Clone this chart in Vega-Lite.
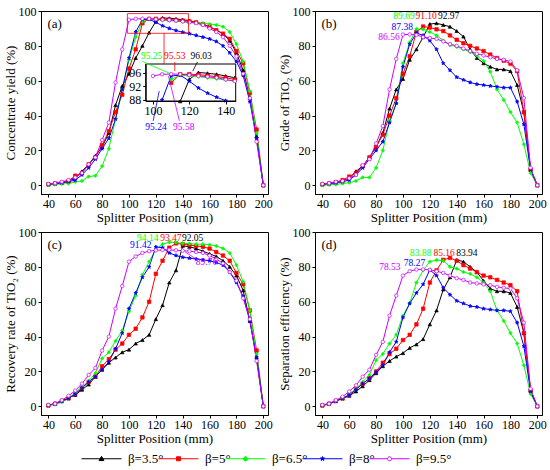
{
"$schema":"https://vega.github.io/schema/vega-lite/v6.json",
"padding":{"left":3,"top":4,"right":3,"bottom":3},
"background":"white",
"datasets":{
"a":[
{"s":"β=3.5°","x":40,"y":0.5},{"s":"β=3.5°","x":45,"y":1},{"s":"β=3.5°","x":50,"y":1.5},{"s":"β=3.5°","x":55,"y":2.5},{"s":"β=3.5°","x":60,"y":4},{"s":"β=3.5°","x":65,"y":8},{"s":"β=3.5°","x":70,"y":12},{"s":"β=3.5°","x":75,"y":17},{"s":"β=3.5°","x":80,"y":22},{"s":"β=3.5°","x":85,"y":30},{"s":"β=3.5°","x":90,"y":46},{"s":"β=3.5°","x":95,"y":57},{"s":"β=3.5°","x":100,"y":64},{"s":"β=3.5°","x":105,"y":73},{"s":"β=3.5°","x":110,"y":80},{"s":"β=3.5°","x":115,"y":87.6},{"s":"β=3.5°","x":120,"y":94},{"s":"β=3.5°","x":125,"y":96.03},{"s":"β=3.5°","x":130,"y":95.8},{"s":"β=3.5°","x":135,"y":95.5},{"s":"β=3.5°","x":140,"y":95},{"s":"β=3.5°","x":145,"y":94.5},{"s":"β=3.5°","x":150,"y":93.5},{"s":"β=3.5°","x":155,"y":92.5},{"s":"β=3.5°","x":160,"y":91},{"s":"β=3.5°","x":165,"y":89},{"s":"β=3.5°","x":170,"y":87},{"s":"β=3.5°","x":175,"y":83},{"s":"β=3.5°","x":180,"y":76},{"s":"β=3.5°","x":185,"y":66},{"s":"β=3.5°","x":190,"y":50},{"s":"β=3.5°","x":195,"y":28},{"s":"β=3.5°","x":200,"y":0},
{"s":"β=5°","x":40,"y":0.5},{"s":"β=5°","x":45,"y":1},{"s":"β=5°","x":50,"y":1.5},{"s":"β=5°","x":55,"y":2.5},{"s":"β=5°","x":60,"y":5.5},{"s":"β=5°","x":65,"y":7},{"s":"β=5°","x":70,"y":12},{"s":"β=5°","x":75,"y":16},{"s":"β=5°","x":80,"y":23},{"s":"β=5°","x":85,"y":31},{"s":"β=5°","x":90,"y":42},{"s":"β=5°","x":95,"y":52},{"s":"β=5°","x":100,"y":67},{"s":"β=5°","x":105,"y":78},{"s":"β=5°","x":110,"y":93},{"s":"β=5°","x":115,"y":95.5},{"s":"β=5°","x":120,"y":95.53},{"s":"β=5°","x":125,"y":95.4},{"s":"β=5°","x":130,"y":95.1},{"s":"β=5°","x":135,"y":94.8},{"s":"β=5°","x":140,"y":94.5},{"s":"β=5°","x":145,"y":94},{"s":"β=5°","x":150,"y":93.5},{"s":"β=5°","x":155,"y":92.5},{"s":"β=5°","x":160,"y":91},{"s":"β=5°","x":165,"y":89},{"s":"β=5°","x":170,"y":87},{"s":"β=5°","x":175,"y":84},{"s":"β=5°","x":180,"y":77},{"s":"β=5°","x":185,"y":70},{"s":"β=5°","x":190,"y":53},{"s":"β=5°","x":195,"y":32},{"s":"β=5°","x":200,"y":0},
{"s":"β=6.5°","x":40,"y":0},{"s":"β=6.5°","x":45,"y":0.5},{"s":"β=6.5°","x":50,"y":0.8},{"s":"β=6.5°","x":55,"y":1},{"s":"β=6.5°","x":60,"y":2},{"s":"β=6.5°","x":65,"y":2.5},{"s":"β=6.5°","x":70,"y":5},{"s":"β=6.5°","x":75,"y":5.5},{"s":"β=6.5°","x":80,"y":11},{"s":"β=6.5°","x":85,"y":21},{"s":"β=6.5°","x":90,"y":38},{"s":"β=6.5°","x":95,"y":55},{"s":"β=6.5°","x":100,"y":72},{"s":"β=6.5°","x":105,"y":85},{"s":"β=6.5°","x":110,"y":94},{"s":"β=6.5°","x":115,"y":95.25},{"s":"β=6.5°","x":120,"y":95},{"s":"β=6.5°","x":125,"y":94.8},{"s":"β=6.5°","x":130,"y":94.5},{"s":"β=6.5°","x":135,"y":94.2},{"s":"β=6.5°","x":140,"y":93.8},{"s":"β=6.5°","x":145,"y":93.5},{"s":"β=6.5°","x":150,"y":93.3},{"s":"β=6.5°","x":155,"y":93},{"s":"β=6.5°","x":160,"y":92.5},{"s":"β=6.5°","x":165,"y":92},{"s":"β=6.5°","x":170,"y":91},{"s":"β=6.5°","x":175,"y":88},{"s":"β=6.5°","x":180,"y":81},{"s":"β=6.5°","x":185,"y":71},{"s":"β=6.5°","x":190,"y":54},{"s":"β=6.5°","x":195,"y":30},{"s":"β=6.5°","x":200,"y":0},
{"s":"β=8°","x":40,"y":0.5},{"s":"β=8°","x":45,"y":1},{"s":"β=8°","x":50,"y":1.5},{"s":"β=8°","x":55,"y":2},{"s":"β=8°","x":60,"y":3},{"s":"β=8°","x":65,"y":6},{"s":"β=8°","x":70,"y":10},{"s":"β=8°","x":75,"y":15},{"s":"β=8°","x":80,"y":21},{"s":"β=8°","x":85,"y":27},{"s":"β=8°","x":90,"y":38},{"s":"β=8°","x":95,"y":55},{"s":"β=8°","x":100,"y":73},{"s":"β=8°","x":105,"y":88},{"s":"β=8°","x":110,"y":95},{"s":"β=8°","x":115,"y":95.24},{"s":"β=8°","x":120,"y":93.5},{"s":"β=8°","x":125,"y":91.5},{"s":"β=8°","x":130,"y":90},{"s":"β=8°","x":135,"y":88.8},{"s":"β=8°","x":140,"y":87.8},{"s":"β=8°","x":145,"y":87},{"s":"β=8°","x":150,"y":86},{"s":"β=8°","x":155,"y":85},{"s":"β=8°","x":160,"y":84},{"s":"β=8°","x":165,"y":82.5},{"s":"β=8°","x":170,"y":80},{"s":"β=8°","x":175,"y":76},{"s":"β=8°","x":180,"y":71},{"s":"β=8°","x":185,"y":63},{"s":"β=8°","x":190,"y":48},{"s":"β=8°","x":195,"y":27},{"s":"β=8°","x":200,"y":0},
{"s":"β=9.5°","x":40,"y":0.8},{"s":"β=9.5°","x":45,"y":1.2},{"s":"β=9.5°","x":50,"y":2},{"s":"β=9.5°","x":55,"y":3},{"s":"β=9.5°","x":60,"y":4.5},{"s":"β=9.5°","x":65,"y":7},{"s":"β=9.5°","x":70,"y":12},{"s":"β=9.5°","x":75,"y":16},{"s":"β=9.5°","x":80,"y":26},{"s":"β=9.5°","x":85,"y":36},{"s":"β=9.5°","x":90,"y":59},{"s":"β=9.5°","x":95,"y":78},{"s":"β=9.5°","x":100,"y":95},{"s":"β=9.5°","x":105,"y":95.5},{"s":"β=9.5°","x":110,"y":95.58},{"s":"β=9.5°","x":115,"y":95.5},{"s":"β=9.5°","x":120,"y":95.3},{"s":"β=9.5°","x":125,"y":95},{"s":"β=9.5°","x":130,"y":94.8},{"s":"β=9.5°","x":135,"y":94.5},{"s":"β=9.5°","x":140,"y":94},{"s":"β=9.5°","x":145,"y":93.5},{"s":"β=9.5°","x":150,"y":93},{"s":"β=9.5°","x":155,"y":92},{"s":"β=9.5°","x":160,"y":90},{"s":"β=9.5°","x":165,"y":88},{"s":"β=9.5°","x":170,"y":85},{"s":"β=9.5°","x":175,"y":80},{"s":"β=9.5°","x":180,"y":74},{"s":"β=9.5°","x":185,"y":64},{"s":"β=9.5°","x":190,"y":50},{"s":"β=9.5°","x":195,"y":25},{"s":"β=9.5°","x":200,"y":0}
],
"b":[
{"s":"β=3.5°","x":40,"y":0.5},{"s":"β=3.5°","x":45,"y":1},{"s":"β=3.5°","x":50,"y":1.5},{"s":"β=3.5°","x":55,"y":2.5},{"s":"β=3.5°","x":60,"y":4},{"s":"β=3.5°","x":65,"y":8},{"s":"β=3.5°","x":70,"y":11},{"s":"β=3.5°","x":75,"y":16},{"s":"β=3.5°","x":80,"y":22},{"s":"β=3.5°","x":85,"y":30},{"s":"β=3.5°","x":90,"y":44},{"s":"β=3.5°","x":95,"y":55},{"s":"β=3.5°","x":100,"y":61},{"s":"β=3.5°","x":105,"y":72},{"s":"β=3.5°","x":110,"y":78},{"s":"β=3.5°","x":115,"y":85},{"s":"β=3.5°","x":120,"y":92.5},{"s":"β=3.5°","x":125,"y":92.97},{"s":"β=3.5°","x":130,"y":92},{"s":"β=3.5°","x":135,"y":91},{"s":"β=3.5°","x":140,"y":88.5},{"s":"β=3.5°","x":145,"y":85.3},{"s":"β=3.5°","x":150,"y":78},{"s":"β=3.5°","x":155,"y":73},{"s":"β=3.5°","x":160,"y":70},{"s":"β=3.5°","x":165,"y":68},{"s":"β=3.5°","x":170,"y":66.5},{"s":"β=3.5°","x":175,"y":66.5},{"s":"β=3.5°","x":180,"y":65.5},{"s":"β=3.5°","x":185,"y":57.5},{"s":"β=3.5°","x":190,"y":42},{"s":"β=3.5°","x":195,"y":9},{"s":"β=3.5°","x":200,"y":0},
{"s":"β=5°","x":40,"y":0.5},{"s":"β=5°","x":45,"y":1},{"s":"β=5°","x":50,"y":1.8},{"s":"β=5°","x":55,"y":3},{"s":"β=5°","x":60,"y":5},{"s":"β=5°","x":65,"y":7},{"s":"β=5°","x":70,"y":11},{"s":"β=5°","x":75,"y":16},{"s":"β=5°","x":80,"y":22},{"s":"β=5°","x":85,"y":29},{"s":"β=5°","x":90,"y":40},{"s":"β=5°","x":95,"y":50},{"s":"β=5°","x":100,"y":64},{"s":"β=5°","x":105,"y":74},{"s":"β=5°","x":110,"y":88},{"s":"β=5°","x":115,"y":91.1},{"s":"β=5°","x":120,"y":90.5},{"s":"β=5°","x":125,"y":89.5},{"s":"β=5°","x":130,"y":88.5},{"s":"β=5°","x":135,"y":86},{"s":"β=5°","x":140,"y":83.5},{"s":"β=5°","x":145,"y":81.5},{"s":"β=5°","x":150,"y":80},{"s":"β=5°","x":155,"y":78.5},{"s":"β=5°","x":160,"y":77},{"s":"β=5°","x":165,"y":75},{"s":"β=5°","x":170,"y":73},{"s":"β=5°","x":175,"y":71.5},{"s":"β=5°","x":180,"y":69.8},{"s":"β=5°","x":185,"y":65.5},{"s":"β=5°","x":190,"y":42},{"s":"β=5°","x":195,"y":9},{"s":"β=5°","x":200,"y":0},
{"s":"β=6.5°","x":40,"y":0},{"s":"β=6.5°","x":45,"y":0.3},{"s":"β=6.5°","x":50,"y":0.5},{"s":"β=6.5°","x":55,"y":1},{"s":"β=6.5°","x":60,"y":1.5},{"s":"β=6.5°","x":65,"y":2.5},{"s":"β=6.5°","x":70,"y":4.5},{"s":"β=6.5°","x":75,"y":4.5},{"s":"β=6.5°","x":80,"y":10},{"s":"β=6.5°","x":85,"y":20},{"s":"β=6.5°","x":90,"y":37},{"s":"β=6.5°","x":95,"y":47},{"s":"β=6.5°","x":100,"y":70},{"s":"β=6.5°","x":105,"y":82},{"s":"β=6.5°","x":110,"y":89.69},{"s":"β=6.5°","x":115,"y":89.5},{"s":"β=6.5°","x":120,"y":88},{"s":"β=6.5°","x":125,"y":86},{"s":"β=6.5°","x":130,"y":83},{"s":"β=6.5°","x":135,"y":80.5},{"s":"β=6.5°","x":140,"y":79.5},{"s":"β=6.5°","x":145,"y":78},{"s":"β=6.5°","x":150,"y":76.5},{"s":"β=6.5°","x":155,"y":74.5},{"s":"β=6.5°","x":160,"y":71.3},{"s":"β=6.5°","x":165,"y":65.2},{"s":"β=6.5°","x":170,"y":55},{"s":"β=6.5°","x":175,"y":49},{"s":"β=6.5°","x":180,"y":42},{"s":"β=6.5°","x":185,"y":36},{"s":"β=6.5°","x":190,"y":23.5},{"s":"β=6.5°","x":195,"y":7},{"s":"β=6.5°","x":200,"y":0},
{"s":"β=8°","x":40,"y":0.5},{"s":"β=8°","x":45,"y":1},{"s":"β=8°","x":50,"y":1.5},{"s":"β=8°","x":55,"y":2},{"s":"β=8°","x":60,"y":3},{"s":"β=8°","x":65,"y":6},{"s":"β=8°","x":70,"y":10},{"s":"β=8°","x":75,"y":15},{"s":"β=8°","x":80,"y":20},{"s":"β=8°","x":85,"y":25},{"s":"β=8°","x":90,"y":36},{"s":"β=8°","x":95,"y":47},{"s":"β=8°","x":100,"y":68},{"s":"β=8°","x":105,"y":81},{"s":"β=8°","x":110,"y":87.38},{"s":"β=8°","x":115,"y":86},{"s":"β=8°","x":120,"y":83},{"s":"β=8°","x":125,"y":78},{"s":"β=8°","x":130,"y":70},{"s":"β=8°","x":135,"y":66},{"s":"β=8°","x":140,"y":62},{"s":"β=8°","x":145,"y":60.5},{"s":"β=8°","x":150,"y":59},{"s":"β=8°","x":155,"y":58},{"s":"β=8°","x":160,"y":57.5},{"s":"β=8°","x":165,"y":57},{"s":"β=8°","x":170,"y":56.5},{"s":"β=8°","x":175,"y":56},{"s":"β=8°","x":180,"y":56},{"s":"β=8°","x":185,"y":48},{"s":"β=8°","x":190,"y":35},{"s":"β=8°","x":195,"y":9},{"s":"β=8°","x":200,"y":0},
{"s":"β=9.5°","x":40,"y":0.8},{"s":"β=9.5°","x":45,"y":1.2},{"s":"β=9.5°","x":50,"y":2},{"s":"β=9.5°","x":55,"y":2.5},{"s":"β=9.5°","x":60,"y":4},{"s":"β=9.5°","x":65,"y":6},{"s":"β=9.5°","x":70,"y":11.5},{"s":"β=9.5°","x":75,"y":15},{"s":"β=9.5°","x":80,"y":24},{"s":"β=9.5°","x":85,"y":34},{"s":"β=9.5°","x":90,"y":55},{"s":"β=9.5°","x":95,"y":72.5},{"s":"β=9.5°","x":100,"y":86.5},{"s":"β=9.5°","x":105,"y":86.56},{"s":"β=9.5°","x":110,"y":86.3},{"s":"β=9.5°","x":115,"y":85},{"s":"β=9.5°","x":120,"y":84.5},{"s":"β=9.5°","x":125,"y":84},{"s":"β=9.5°","x":130,"y":82.5},{"s":"β=9.5°","x":135,"y":81},{"s":"β=9.5°","x":140,"y":80},{"s":"β=9.5°","x":145,"y":78.5},{"s":"β=9.5°","x":150,"y":77},{"s":"β=9.5°","x":155,"y":75.5},{"s":"β=9.5°","x":160,"y":74.5},{"s":"β=9.5°","x":165,"y":73.5},{"s":"β=9.5°","x":170,"y":72.5},{"s":"β=9.5°","x":175,"y":72},{"s":"β=9.5°","x":180,"y":71},{"s":"β=9.5°","x":185,"y":66},{"s":"β=9.5°","x":190,"y":50},{"s":"β=9.5°","x":195,"y":10},{"s":"β=9.5°","x":200,"y":0}
],
"c":[
{"s":"β=3.5°","x":40,"y":0.5},{"s":"β=3.5°","x":45,"y":1.5},{"s":"β=3.5°","x":50,"y":3},{"s":"β=3.5°","x":55,"y":5},{"s":"β=3.5°","x":60,"y":6.5},{"s":"β=3.5°","x":65,"y":9.5},{"s":"β=3.5°","x":70,"y":12.5},{"s":"β=3.5°","x":75,"y":17},{"s":"β=3.5°","x":80,"y":21},{"s":"β=3.5°","x":85,"y":25},{"s":"β=3.5°","x":90,"y":28},{"s":"β=3.5°","x":95,"y":31},{"s":"β=3.5°","x":100,"y":32.5},{"s":"β=3.5°","x":105,"y":36},{"s":"β=3.5°","x":110,"y":38},{"s":"β=3.5°","x":115,"y":41},{"s":"β=3.5°","x":120,"y":50},{"s":"β=3.5°","x":125,"y":58},{"s":"β=3.5°","x":130,"y":71},{"s":"β=3.5°","x":135,"y":78},{"s":"β=3.5°","x":140,"y":92.05},{"s":"β=3.5°","x":145,"y":91.5},{"s":"β=3.5°","x":150,"y":90.5},{"s":"β=3.5°","x":155,"y":89},{"s":"β=3.5°","x":160,"y":87.5},{"s":"β=3.5°","x":165,"y":86},{"s":"β=3.5°","x":170,"y":83.5},{"s":"β=3.5°","x":175,"y":80},{"s":"β=3.5°","x":180,"y":75},{"s":"β=3.5°","x":185,"y":66.5},{"s":"β=3.5°","x":190,"y":49},{"s":"β=3.5°","x":195,"y":28},{"s":"β=3.5°","x":200,"y":0},
{"s":"β=5°","x":40,"y":0.5},{"s":"β=5°","x":45,"y":1.5},{"s":"β=5°","x":50,"y":3},{"s":"β=5°","x":55,"y":4.5},{"s":"β=5°","x":60,"y":7},{"s":"β=5°","x":65,"y":10.5},{"s":"β=5°","x":70,"y":14},{"s":"β=5°","x":75,"y":17},{"s":"β=5°","x":80,"y":23},{"s":"β=5°","x":85,"y":27},{"s":"β=5°","x":90,"y":32.5},{"s":"β=5°","x":95,"y":36},{"s":"β=5°","x":100,"y":41},{"s":"β=5°","x":105,"y":44.5},{"s":"β=5°","x":110,"y":51},{"s":"β=5°","x":115,"y":60},{"s":"β=5°","x":120,"y":76},{"s":"β=5°","x":125,"y":83.5},{"s":"β=5°","x":130,"y":91},{"s":"β=5°","x":135,"y":93.47},{"s":"β=5°","x":140,"y":93},{"s":"β=5°","x":145,"y":92.5},{"s":"β=5°","x":150,"y":92},{"s":"β=5°","x":155,"y":91.5},{"s":"β=5°","x":160,"y":90.5},{"s":"β=5°","x":165,"y":88.5},{"s":"β=5°","x":170,"y":86.5},{"s":"β=5°","x":175,"y":83.5},{"s":"β=5°","x":180,"y":76.5},{"s":"β=5°","x":185,"y":70},{"s":"β=5°","x":190,"y":55},{"s":"β=5°","x":195,"y":32},{"s":"β=5°","x":200,"y":0},
{"s":"β=6.5°","x":40,"y":0.5},{"s":"β=6.5°","x":45,"y":1},{"s":"β=6.5°","x":50,"y":2.5},{"s":"β=6.5°","x":55,"y":4.5},{"s":"β=6.5°","x":60,"y":8},{"s":"β=6.5°","x":65,"y":11},{"s":"β=6.5°","x":70,"y":14.5},{"s":"β=6.5°","x":75,"y":19},{"s":"β=6.5°","x":80,"y":27.5},{"s":"β=6.5°","x":85,"y":31},{"s":"β=6.5°","x":90,"y":37.5},{"s":"β=6.5°","x":95,"y":43.5},{"s":"β=6.5°","x":100,"y":54.5},{"s":"β=6.5°","x":105,"y":63.5},{"s":"β=6.5°","x":110,"y":75.5},{"s":"β=6.5°","x":115,"y":83},{"s":"β=6.5°","x":120,"y":90},{"s":"β=6.5°","x":125,"y":93},{"s":"β=6.5°","x":130,"y":94.14},{"s":"β=6.5°","x":135,"y":94},{"s":"β=6.5°","x":140,"y":93.5},{"s":"β=6.5°","x":145,"y":93.3},{"s":"β=6.5°","x":150,"y":93},{"s":"β=6.5°","x":155,"y":93},{"s":"β=6.5°","x":160,"y":92.7},{"s":"β=6.5°","x":165,"y":92},{"s":"β=6.5°","x":170,"y":90.5},{"s":"β=6.5°","x":175,"y":88},{"s":"β=6.5°","x":180,"y":81},{"s":"β=6.5°","x":185,"y":71.5},{"s":"β=6.5°","x":190,"y":55},{"s":"β=6.5°","x":195,"y":30},{"s":"β=6.5°","x":200,"y":0},
{"s":"β=8°","x":40,"y":0.5},{"s":"β=8°","x":45,"y":1.5},{"s":"β=8°","x":50,"y":3},{"s":"β=8°","x":55,"y":4.5},{"s":"β=8°","x":60,"y":7},{"s":"β=8°","x":65,"y":10.5},{"s":"β=8°","x":70,"y":14},{"s":"β=8°","x":75,"y":17},{"s":"β=8°","x":80,"y":21},{"s":"β=8°","x":85,"y":25.5},{"s":"β=8°","x":90,"y":33},{"s":"β=8°","x":95,"y":42},{"s":"β=8°","x":100,"y":56},{"s":"β=8°","x":105,"y":65},{"s":"β=8°","x":110,"y":74},{"s":"β=8°","x":115,"y":80},{"s":"β=8°","x":120,"y":91.42},{"s":"β=8°","x":125,"y":91},{"s":"β=8°","x":130,"y":88},{"s":"β=8°","x":135,"y":86.5},{"s":"β=8°","x":140,"y":85.5},{"s":"β=8°","x":145,"y":85},{"s":"β=8°","x":150,"y":84.5},{"s":"β=8°","x":155,"y":84},{"s":"β=8°","x":160,"y":83.5},{"s":"β=8°","x":165,"y":82.5},{"s":"β=8°","x":170,"y":81},{"s":"β=8°","x":175,"y":77},{"s":"β=8°","x":180,"y":71},{"s":"β=8°","x":185,"y":63},{"s":"β=8°","x":190,"y":49},{"s":"β=8°","x":195,"y":28},{"s":"β=8°","x":200,"y":0},
{"s":"β=9.5°","x":40,"y":0.8},{"s":"β=9.5°","x":45,"y":1.5},{"s":"β=9.5°","x":50,"y":3.5},{"s":"β=9.5°","x":55,"y":6},{"s":"β=9.5°","x":60,"y":9},{"s":"β=9.5°","x":65,"y":13},{"s":"β=9.5°","x":70,"y":18},{"s":"β=9.5°","x":75,"y":22},{"s":"β=9.5°","x":80,"y":32},{"s":"β=9.5°","x":85,"y":40},{"s":"β=9.5°","x":90,"y":56},{"s":"β=9.5°","x":95,"y":69},{"s":"β=9.5°","x":100,"y":83},{"s":"β=9.5°","x":105,"y":86},{"s":"β=9.5°","x":110,"y":88},{"s":"β=9.5°","x":115,"y":89},{"s":"β=9.5°","x":120,"y":89.5},{"s":"β=9.5°","x":125,"y":89.7},{"s":"β=9.5°","x":130,"y":89.76},{"s":"β=9.5°","x":135,"y":89.5},{"s":"β=9.5°","x":140,"y":89.3},{"s":"β=9.5°","x":145,"y":89},{"s":"β=9.5°","x":150,"y":88.5},{"s":"β=9.5°","x":155,"y":88},{"s":"β=9.5°","x":160,"y":86.5},{"s":"β=9.5°","x":165,"y":84.5},{"s":"β=9.5°","x":170,"y":82},{"s":"β=9.5°","x":175,"y":77},{"s":"β=9.5°","x":180,"y":72},{"s":"β=9.5°","x":185,"y":62},{"s":"β=9.5°","x":190,"y":50},{"s":"β=9.5°","x":195,"y":26},{"s":"β=9.5°","x":200,"y":0}
],
"d":[
{"s":"β=3.5°","x":40,"y":0.5},{"s":"β=3.5°","x":45,"y":1.5},{"s":"β=3.5°","x":50,"y":3},{"s":"β=3.5°","x":55,"y":4.5},{"s":"β=3.5°","x":60,"y":6},{"s":"β=3.5°","x":65,"y":8.5},{"s":"β=3.5°","x":70,"y":11.5},{"s":"β=3.5°","x":75,"y":15},{"s":"β=3.5°","x":80,"y":19},{"s":"β=3.5°","x":85,"y":23},{"s":"β=3.5°","x":90,"y":26},{"s":"β=3.5°","x":95,"y":28.5},{"s":"β=3.5°","x":100,"y":30.5},{"s":"β=3.5°","x":105,"y":33.5},{"s":"β=3.5°","x":110,"y":35.5},{"s":"β=3.5°","x":115,"y":38.5},{"s":"β=3.5°","x":120,"y":47},{"s":"β=3.5°","x":125,"y":55},{"s":"β=3.5°","x":130,"y":67},{"s":"β=3.5°","x":135,"y":74},{"s":"β=3.5°","x":140,"y":83.94},{"s":"β=3.5°","x":145,"y":83},{"s":"β=3.5°","x":150,"y":80},{"s":"β=3.5°","x":155,"y":77},{"s":"β=3.5°","x":160,"y":72},{"s":"β=3.5°","x":165,"y":67.5},{"s":"β=3.5°","x":170,"y":66},{"s":"β=3.5°","x":175,"y":66},{"s":"β=3.5°","x":180,"y":65},{"s":"β=3.5°","x":185,"y":57},{"s":"β=3.5°","x":190,"y":42},{"s":"β=3.5°","x":195,"y":9},{"s":"β=3.5°","x":200,"y":0},
{"s":"β=5°","x":40,"y":0.5},{"s":"β=5°","x":45,"y":1.5},{"s":"β=5°","x":50,"y":3},{"s":"β=5°","x":55,"y":4.5},{"s":"β=5°","x":60,"y":6.5},{"s":"β=5°","x":65,"y":10},{"s":"β=5°","x":70,"y":13},{"s":"β=5°","x":75,"y":16},{"s":"β=5°","x":80,"y":20},{"s":"β=5°","x":85,"y":25},{"s":"β=5°","x":90,"y":30},{"s":"β=5°","x":95,"y":33},{"s":"β=5°","x":100,"y":38},{"s":"β=5°","x":105,"y":41},{"s":"β=5°","x":110,"y":47},{"s":"β=5°","x":115,"y":56},{"s":"β=5°","x":120,"y":71},{"s":"β=5°","x":125,"y":78},{"s":"β=5°","x":130,"y":84},{"s":"β=5°","x":135,"y":85.16},{"s":"β=5°","x":140,"y":83.5},{"s":"β=5°","x":145,"y":81},{"s":"β=5°","x":150,"y":79},{"s":"β=5°","x":155,"y":77},{"s":"β=5°","x":160,"y":75},{"s":"β=5°","x":165,"y":74},{"s":"β=5°","x":170,"y":72.5},{"s":"β=5°","x":175,"y":71},{"s":"β=5°","x":180,"y":69.5},{"s":"β=5°","x":185,"y":66},{"s":"β=5°","x":190,"y":42},{"s":"β=5°","x":195,"y":9},{"s":"β=5°","x":200,"y":0},
{"s":"β=6.5°","x":40,"y":0.5},{"s":"β=6.5°","x":45,"y":1},{"s":"β=6.5°","x":50,"y":3},{"s":"β=6.5°","x":55,"y":4.5},{"s":"β=6.5°","x":60,"y":7},{"s":"β=6.5°","x":65,"y":10},{"s":"β=6.5°","x":70,"y":14},{"s":"β=6.5°","x":75,"y":18},{"s":"β=6.5°","x":80,"y":26.5},{"s":"β=6.5°","x":85,"y":30},{"s":"β=6.5°","x":90,"y":36},{"s":"β=6.5°","x":95,"y":41},{"s":"β=6.5°","x":100,"y":52},{"s":"β=6.5°","x":105,"y":59},{"s":"β=6.5°","x":110,"y":71},{"s":"β=6.5°","x":115,"y":78},{"s":"β=6.5°","x":120,"y":83},{"s":"β=6.5°","x":125,"y":83.88},{"s":"β=6.5°","x":130,"y":83.5},{"s":"β=6.5°","x":135,"y":80},{"s":"β=6.5°","x":140,"y":79},{"s":"β=6.5°","x":145,"y":77},{"s":"β=6.5°","x":150,"y":76},{"s":"β=6.5°","x":155,"y":74},{"s":"β=6.5°","x":160,"y":71},{"s":"β=6.5°","x":165,"y":66},{"s":"β=6.5°","x":170,"y":55},{"s":"β=6.5°","x":175,"y":49},{"s":"β=6.5°","x":180,"y":42},{"s":"β=6.5°","x":185,"y":36},{"s":"β=6.5°","x":190,"y":23.5},{"s":"β=6.5°","x":195,"y":7},{"s":"β=6.5°","x":200,"y":0},
{"s":"β=8°","x":40,"y":0.5},{"s":"β=8°","x":45,"y":1.5},{"s":"β=8°","x":50,"y":3},{"s":"β=8°","x":55,"y":4.5},{"s":"β=8°","x":60,"y":6.5},{"s":"β=8°","x":65,"y":9.5},{"s":"β=8°","x":70,"y":13},{"s":"β=8°","x":75,"y":16},{"s":"β=8°","x":80,"y":19.5},{"s":"β=8°","x":85,"y":23.5},{"s":"β=8°","x":90,"y":31},{"s":"β=8°","x":95,"y":37},{"s":"β=8°","x":100,"y":51},{"s":"β=8°","x":105,"y":59},{"s":"β=8°","x":110,"y":65},{"s":"β=8°","x":115,"y":70},{"s":"β=8°","x":120,"y":78.27},{"s":"β=8°","x":125,"y":75},{"s":"β=8°","x":130,"y":68},{"s":"β=8°","x":135,"y":64},{"s":"β=8°","x":140,"y":60.5},{"s":"β=8°","x":145,"y":59},{"s":"β=8°","x":150,"y":57.5},{"s":"β=8°","x":155,"y":57},{"s":"β=8°","x":160,"y":56},{"s":"β=8°","x":165,"y":55.5},{"s":"β=8°","x":170,"y":55},{"s":"β=8°","x":175,"y":55},{"s":"β=8°","x":180,"y":54.5},{"s":"β=8°","x":185,"y":48},{"s":"β=8°","x":190,"y":34.5},{"s":"β=8°","x":195,"y":8.5},{"s":"β=8°","x":200,"y":0},
{"s":"β=9.5°","x":40,"y":0.8},{"s":"β=9.5°","x":45,"y":1.5},{"s":"β=9.5°","x":50,"y":3.5},{"s":"β=9.5°","x":55,"y":5.5},{"s":"β=9.5°","x":60,"y":8.5},{"s":"β=9.5°","x":65,"y":12},{"s":"β=9.5°","x":70,"y":17},{"s":"β=9.5°","x":75,"y":21},{"s":"β=9.5°","x":80,"y":29.5},{"s":"β=9.5°","x":85,"y":37},{"s":"β=9.5°","x":90,"y":52},{"s":"β=9.5°","x":95,"y":63.5},{"s":"β=9.5°","x":100,"y":75},{"s":"β=9.5°","x":105,"y":77.5},{"s":"β=9.5°","x":110,"y":78.5},{"s":"β=9.5°","x":115,"y":78.53},{"s":"β=9.5°","x":120,"y":78.3},{"s":"β=9.5°","x":125,"y":77.5},{"s":"β=9.5°","x":130,"y":76.5},{"s":"β=9.5°","x":135,"y":75},{"s":"β=9.5°","x":140,"y":73.5},{"s":"β=9.5°","x":145,"y":72.5},{"s":"β=9.5°","x":150,"y":71},{"s":"β=9.5°","x":155,"y":70.5},{"s":"β=9.5°","x":160,"y":70},{"s":"β=9.5°","x":165,"y":69.5},{"s":"β=9.5°","x":170,"y":68.5},{"s":"β=9.5°","x":175,"y":68},{"s":"β=9.5°","x":180,"y":67.5},{"s":"β=9.5°","x":185,"y":62},{"s":"β=9.5°","x":190,"y":48},{"s":"β=9.5°","x":195,"y":10},{"s":"β=9.5°","x":200,"y":0}
],
"notes":[
{"p":"a","s":"β=6.5°","x":116.9,"y":73.9,"t":"95.25"},{"p":"a","s":"β=5°","x":134.1,"y":73.9,"t":"95.53"},{"p":"a","s":"β=3.5°","x":153.7,"y":73.9,"t":"96.03"},{"p":"a","s":"β=8°","x":120.1,"y":33.3,"t":"95.24"},{"p":"a","s":"β=9.5°","x":140.8,"y":33.3,"t":"95.58"},
{"p":"b","s":"β=6.5°","x":100.8,"y":97.1,"t":"89.69"},{"p":"b","s":"β=5°","x":117.2,"y":97.1,"t":"91.10"},{"p":"b","s":"β=3.5°","x":134,"y":97.1,"t":"92.97"},{"p":"b","s":"β=8°","x":99.5,"y":90.8,"t":"87.38"},{"p":"b","s":"β=9.5°","x":89.6,"y":85,"t":"86.56"},
{"p":"c","s":"β=6.5°","x":114,"y":96.5,"t":"94.14"},{"p":"c","s":"β=5°","x":131.2,"y":96.5,"t":"93.47"},{"p":"c","s":"β=3.5°","x":147.4,"y":96.5,"t":"92.05"},{"p":"c","s":"β=8°","x":108.8,"y":92.7,"t":"91.42"},{"p":"c","s":"β=9.5°","x":157.7,"y":82.8,"t":"89.76"},
{"p":"d","s":"β=6.5°","x":113.2,"y":87.9,"t":"83.88"},{"p":"d","s":"β=5°","x":130.6,"y":87.9,"t":"85.16"},{"p":"d","s":"β=3.5°","x":147.6,"y":87.9,"t":"83.94"},{"p":"d","s":"β=8°","x":108.6,"y":82.5,"t":"78.27"},{"p":"d","s":"β=9.5°","x":90.2,"y":80.2,"t":"78.53"}
],
"arrows":[
{"p":"a","s":"β=6.5°","x":110,"y":71,"x2":131,"y2":64},
{"p":"a","s":"β=5°","x":134.1,"y":70.8,"x2":134.1,"y2":65.5},
{"p":"a","s":"β=3.5°","x":151,"y":70.8,"x2":147.5,"y2":65.5},
{"p":"a","s":"β=8°","x":118,"y":37,"x2":122.5,"y2":54},
{"p":"a","s":"β=9.5°","x":137.5,"y":37,"x2":129.4,"y2":62.7},
{"p":"c","s":"β=9.5°","x":150.4,"y":84.3,"x2":141.7,"y2":88.6}
]
},
"vconcat":[
{"hconcat":[
{
"width":227,"height":183,
"resolve":{"scale":{"x":"independent","y":"independent"}},
"layer":[
{
"data":{"name":"a"},
"encoding":{
"x":{"field":"x","type":"quantitative","scale":{"domain":[34.5,203.5],"nice":false,"zero":false},"axis":{"values":[40,60,80,100,120,140,160,180,200],"title":"Splitter Position (mm)"}},
"y":{"field":"y","type":"quantitative","scale":{"domain":[-5,100],"nice":false,"zero":false},"axis":{"values":[0,20,40,60,80,100],"title":"Concentrate yield (%)"}}
},
"layer":[
{"mark":{"type":"line","strokeWidth":1},"encoding":{"stroke":{"field":"s","type":"nominal","scale":{"domain":["β=3.5°","β=5°","β=6.5°","β=8°","β=9.5°"],"range":["#000000","#FF0000","#00FF00","#0000FF","#CC00FF"]},
"legend":{"orient":"none","legendX":54,"legendY":441,"direction":"horizontal","title":null,"symbolSize":16,"symbolStrokeWidth":1,"labelOffset":20,"columnPadding":-8,"labelFont":"Liberation Serif","labelFontSize":13,"labelColor":"black",
"encode":{"symbols":{"update":{
"shape":{"signal":"['M-10,0H10M0,-1.2L1.2,0.9H-1.2Z','M-10,0H10M-1,-1H1V1H-1Z','M-10,0H10M0,-1.3L1.3,0L0,1.3L-1.3,0Z','M-10,0H10M0,-1.1L0.265,-0.364L1.046,-0.34L0.428,0.139L0.647,0.89L0,0.45L-0.647,0.89L-0.428,0.139L-1.046,-0.34L-0.265,-0.364Z','M-10,0H-1M1,0H10M1,0A1,1,0,1,1,-1,0A1,1,0,1,1,1,0Z'][datum.index]"},
"fill":{"signal":"['#000000','#FF0000','#00FF00','#0000FF','#FFFFFF'][datum.index]"}
}}}}}}},
{"mark":{"type":"point","filled":true,"size":12,"strokeWidth":0.7,"opacity":1},"encoding":{
"stroke":{"field":"s","type":"nominal","scale":{"domain":["β=3.5°","β=5°","β=6.5°","β=8°","β=9.5°"],"range":["#000000","#FF0000","#00FF00","#0000FF","#CC00FF"]},"legend":null},
"fill":{"field":"s","type":"nominal","scale":{"domain":["β=9.5°","β=8°","β=6.5°","β=5°","β=3.5°"],"range":["#FFFFFF","#0000FF","#00FF00","#FF0000","#000000"]},"legend":null},
"shape":{"field":"s","type":"nominal","scale":{"domain":["β=9.5°","β=8°","β=6.5°","β=5°","β=3.5°"],"range":["circle","M0,-1.1L0.265,-0.364L1.046,-0.34L0.428,0.139L0.647,0.89L0,0.45L-0.647,0.89L-0.428,0.139L-1.046,-0.34L-0.265,-0.364Z","diamond","square","triangle-up"]},"legend":null}}}
]
},
{
"data":{"name":"a"},
"encoding":{
"x":{"field":"x","type":"quantitative","scale":{"domain":[96,145.5],"range":[104.7,194.7],"nice":false,"zero":false},"axis":{"orient":"bottom","offset":-93,"values":[100,120,140],"title":null,"zindex":1}},
"y":{"field":"y","type":"quantitative","scale":{"domain":[87.7,98.5],"range":[90,53],"nice":false,"zero":false},"axis":{"orient":"left","offset":-104.7,"values":[88,92,96],"title":null,"zindex":1}}
},
"layer":[
{"data":{"values":[{"x":96,"x2":145.5,"y":87.7,"y2":98.5}]},"mark":{"type":"rect","fill":"white","stroke":"black","strokeWidth":1},"encoding":{"x2":{"field":"x2"},"y2":{"field":"y2"}}},
{"transform":[{"filter":"datum.x >= 96 && datum.x <= 145.5 && datum.y >= 87.4"}],"mark":{"type":"line","strokeWidth":1},"encoding":{"stroke":{"field":"s","type":"nominal","scale":{"domain":["β=3.5°","β=5°","β=6.5°","β=8°","β=9.5°"],"range":["#000000","#FF0000","#00FF00","#0000FF","#CC00FF"]},"legend":null}}},
{"transform":[{"filter":"datum.x >= 96 && datum.x <= 145.5 && datum.y >= 87.4"}],"mark":{"type":"point","filled":true,"size":12,"strokeWidth":0.7,"opacity":1},"encoding":{
"stroke":{"field":"s","type":"nominal","scale":{"domain":["β=3.5°","β=5°","β=6.5°","β=8°","β=9.5°"],"range":["#000000","#FF0000","#00FF00","#0000FF","#CC00FF"]},"legend":null},
"fill":{"field":"s","type":"nominal","scale":{"domain":["β=9.5°","β=8°","β=6.5°","β=5°","β=3.5°"],"range":["#FFFFFF","#0000FF","#00FF00","#FF0000","#000000"]},"legend":null},
"shape":{"field":"s","type":"nominal","scale":{"domain":["β=9.5°","β=8°","β=6.5°","β=5°","β=3.5°"],"range":["circle","M0,-1.1L0.265,-0.364L1.046,-0.34L0.428,0.139L0.647,0.89L0,0.45L-0.647,0.89L-0.428,0.139L-1.046,-0.34L-0.265,-0.364Z","diamond","square","triangle-up"]},"legend":null}}}
]
},
{
"encoding":{
"x":{"field":"x","type":"quantitative","scale":{"domain":[34.5,203.5],"nice":false,"zero":false},"axis":null},
"y":{"field":"y","type":"quantitative","scale":{"domain":[-5,100],"nice":false,"zero":false},"axis":null}
},
"layer":[
{"data":{"values":[{"x":98.8,"x2":144.3,"y":87.2,"y2":98.5}]},"mark":{"type":"rect","filled":false,"stroke":"#FF0000","strokeWidth":0.8},"encoding":{"x2":{"field":"x2"},"y2":{"field":"y2"}}},
{"data":{"values":[{"x":126.1,"y":87.2,"y2":69.6}]},"mark":{"type":"rule","color":"#FF0000","strokeWidth":0.8},"encoding":{"y2":{"field":"y2"}}},
{"data":{"name":"arrows"},"transform":[{"filter":"datum.p === 'a'"}],"mark":{"type":"rule","strokeWidth":0.8},"encoding":{"x2":{"field":"x2"},"y2":{"field":"y2"},"color":{"field":"s","type":"nominal","scale":{"domain":["β=9.5°","β=8°","β=6.5°","β=5°","β=3.5°"],"range":["#CC00FF","#0000FF","#00FF00","#FF0000","#000000"]},"legend":null}}},
{"data":{"name":"notes"},"transform":[{"filter":"datum.p === 'a'"}],"mark":{"type":"text","fontSize":9.5,"font":"Liberation Serif"},"encoding":{"text":{"field":"t"},"color":{"field":"s","type":"nominal","scale":{"domain":["β=9.5°","β=8°","β=6.5°","β=5°","β=3.5°"],"range":["#CC00FF","#0000FF","#00FF00","#FF0000","#000000"]},"legend":null}}},
{"data":{"values":[{"x":39.3,"y":92.5,"t":"(a)"}]},"mark":{"type":"text","align":"left","fontSize":13,"font":"Liberation Serif","color":"black"},"encoding":{"text":{"field":"t"}}}
]
}
]
},
{
"width":227,"height":183,
"data":{"name":"b"},
"encoding":{
"x":{"field":"x","type":"quantitative","scale":{"domain":[34.5,203.5],"nice":false,"zero":false},"axis":{"values":[40,60,80,100,120,140,160,180,200],"title":"Splitter Position (mm)"}},
"y":{"field":"y","type":"quantitative","scale":{"domain":[-5,100],"nice":false,"zero":false},"axis":{"values":[0,20,40,60,80,100],"title":"Grade of TiO₂ (%)"}}
},
"layer":[
{"mark":{"type":"line","strokeWidth":1},"encoding":{"stroke":{"field":"s","type":"nominal","scale":{"domain":["β=3.5°","β=5°","β=6.5°","β=8°","β=9.5°"],"range":["#000000","#FF0000","#00FF00","#0000FF","#CC00FF"]},"legend":null}}},
{"mark":{"type":"point","filled":true,"size":12,"strokeWidth":0.7,"opacity":1},"encoding":{
"stroke":{"field":"s","type":"nominal","scale":{"domain":["β=3.5°","β=5°","β=6.5°","β=8°","β=9.5°"],"range":["#000000","#FF0000","#00FF00","#0000FF","#CC00FF"]},"legend":null},
"fill":{"field":"s","type":"nominal","scale":{"domain":["β=9.5°","β=8°","β=6.5°","β=5°","β=3.5°"],"range":["#FFFFFF","#0000FF","#00FF00","#FF0000","#000000"]},"legend":null},
"shape":{"field":"s","type":"nominal","scale":{"domain":["β=9.5°","β=8°","β=6.5°","β=5°","β=3.5°"],"range":["circle","M0,-1.1L0.265,-0.364L1.046,-0.34L0.428,0.139L0.647,0.89L0,0.45L-0.647,0.89L-0.428,0.139L-1.046,-0.34L-0.265,-0.364Z","diamond","square","triangle-up"]},"legend":null}}},
{"data":{"name":"notes"},"transform":[{"filter":"datum.p === 'b'"}],"mark":{"type":"text","fontSize":9.5,"font":"Liberation Serif"},"encoding":{"text":{"field":"t"},"color":{"field":"s","type":"nominal","scale":{"domain":["β=9.5°","β=8°","β=6.5°","β=5°","β=3.5°"],"range":["#CC00FF","#0000FF","#00FF00","#FF0000","#000000"]},"legend":null}}},
{"data":{"values":[{"x":39.3,"y":92.5,"t":"(b)"}]},"mark":{"type":"text","align":"left","fontSize":13,"font":"Liberation Serif","color":"black"},"encoding":{"text":{"field":"t"}}}
]
}
],"spacing":4},
{"hconcat":[
{
"width":227,"height":183,
"data":{"name":"c"},
"encoding":{
"x":{"field":"x","type":"quantitative","scale":{"domain":[34.5,203.5],"nice":false,"zero":false},"axis":{"values":[40,60,80,100,120,140,160,180,200],"title":"Splitter Position (mm)"}},
"y":{"field":"y","type":"quantitative","scale":{"domain":[-5,100],"nice":false,"zero":false},"axis":{"values":[0,20,40,60,80,100],"title":"Recovery rate of TiO₂ (%)"}}
},
"layer":[
{"mark":{"type":"line","strokeWidth":1},"encoding":{"stroke":{"field":"s","type":"nominal","scale":{"domain":["β=3.5°","β=5°","β=6.5°","β=8°","β=9.5°"],"range":["#000000","#FF0000","#00FF00","#0000FF","#CC00FF"]},"legend":null}}},
{"mark":{"type":"point","filled":true,"size":12,"strokeWidth":0.7,"opacity":1},"encoding":{
"stroke":{"field":"s","type":"nominal","scale":{"domain":["β=3.5°","β=5°","β=6.5°","β=8°","β=9.5°"],"range":["#000000","#FF0000","#00FF00","#0000FF","#CC00FF"]},"legend":null},
"fill":{"field":"s","type":"nominal","scale":{"domain":["β=9.5°","β=8°","β=6.5°","β=5°","β=3.5°"],"range":["#FFFFFF","#0000FF","#00FF00","#FF0000","#000000"]},"legend":null},
"shape":{"field":"s","type":"nominal","scale":{"domain":["β=9.5°","β=8°","β=6.5°","β=5°","β=3.5°"],"range":["circle","M0,-1.1L0.265,-0.364L1.046,-0.34L0.428,0.139L0.647,0.89L0,0.45L-0.647,0.89L-0.428,0.139L-1.046,-0.34L-0.265,-0.364Z","diamond","square","triangle-up"]},"legend":null}}},
{"data":{"name":"arrows"},"transform":[{"filter":"datum.p === 'c'"}],"mark":{"type":"rule","strokeWidth":0.8},"encoding":{"x2":{"field":"x2"},"y2":{"field":"y2"},"color":{"field":"s","type":"nominal","scale":{"domain":["β=9.5°","β=8°","β=6.5°","β=5°","β=3.5°"],"range":["#CC00FF","#0000FF","#00FF00","#FF0000","#000000"]},"legend":null}}},
{"data":{"name":"notes"},"transform":[{"filter":"datum.p === 'c'"}],"mark":{"type":"text","fontSize":9.5,"font":"Liberation Serif"},"encoding":{"text":{"field":"t"},"color":{"field":"s","type":"nominal","scale":{"domain":["β=9.5°","β=8°","β=6.5°","β=5°","β=3.5°"],"range":["#CC00FF","#0000FF","#00FF00","#FF0000","#000000"]},"legend":null}}},
{"data":{"values":[{"x":39.3,"y":92.5,"t":"(c)"}]},"mark":{"type":"text","align":"left","fontSize":13,"font":"Liberation Serif","color":"black"},"encoding":{"text":{"field":"t"}}}
]
},
{
"width":227,"height":183,
"data":{"name":"d"},
"encoding":{
"x":{"field":"x","type":"quantitative","scale":{"domain":[34.5,203.5],"nice":false,"zero":false},"axis":{"values":[40,60,80,100,120,140,160,180,200],"title":"Splitter Position (mm)"}},
"y":{"field":"y","type":"quantitative","scale":{"domain":[-5,100],"nice":false,"zero":false},"axis":{"values":[0,20,40,60,80,100],"title":"Separation efficiency (%)"}}
},
"layer":[
{"mark":{"type":"line","strokeWidth":1},"encoding":{"stroke":{"field":"s","type":"nominal","scale":{"domain":["β=3.5°","β=5°","β=6.5°","β=8°","β=9.5°"],"range":["#000000","#FF0000","#00FF00","#0000FF","#CC00FF"]},"legend":null}}},
{"mark":{"type":"point","filled":true,"size":12,"strokeWidth":0.7,"opacity":1},"encoding":{
"stroke":{"field":"s","type":"nominal","scale":{"domain":["β=3.5°","β=5°","β=6.5°","β=8°","β=9.5°"],"range":["#000000","#FF0000","#00FF00","#0000FF","#CC00FF"]},"legend":null},
"fill":{"field":"s","type":"nominal","scale":{"domain":["β=9.5°","β=8°","β=6.5°","β=5°","β=3.5°"],"range":["#FFFFFF","#0000FF","#00FF00","#FF0000","#000000"]},"legend":null},
"shape":{"field":"s","type":"nominal","scale":{"domain":["β=9.5°","β=8°","β=6.5°","β=5°","β=3.5°"],"range":["circle","M0,-1.1L0.265,-0.364L1.046,-0.34L0.428,0.139L0.647,0.89L0,0.45L-0.647,0.89L-0.428,0.139L-1.046,-0.34L-0.265,-0.364Z","diamond","square","triangle-up"]},"legend":null}}},
{"data":{"name":"notes"},"transform":[{"filter":"datum.p === 'd'"}],"mark":{"type":"text","fontSize":9.5,"font":"Liberation Serif"},"encoding":{"text":{"field":"t"},"color":{"field":"s","type":"nominal","scale":{"domain":["β=9.5°","β=8°","β=6.5°","β=5°","β=3.5°"],"range":["#CC00FF","#0000FF","#00FF00","#FF0000","#000000"]},"legend":null}}},
{"data":{"values":[{"x":39.3,"y":92.5,"t":"(d)"}]},"mark":{"type":"text","align":"left","fontSize":13,"font":"Liberation Serif","color":"black"},"encoding":{"text":{"field":"t"}}}
]
}
],"spacing":4}
],
"spacing":0,
"config":{
"font":"Liberation Serif",
"view":{"stroke":"black","strokeWidth":1},
"axis":{"grid":false,"domainColor":"black","domainWidth":1,"tickColor":"black","tickSize":3,"labelColor":"black","titleColor":"black","labelFont":"Liberation Serif","titleFont":"Liberation Serif","labelFontSize":12,"titleFontSize":13,"titleFontWeight":"normal","labelPadding":2},
"axisX":{"titlePadding":2,"labelPadding":1},
"axisY":{"titlePadding":1},
"text":{"font":"Liberation Serif"}
}
}
